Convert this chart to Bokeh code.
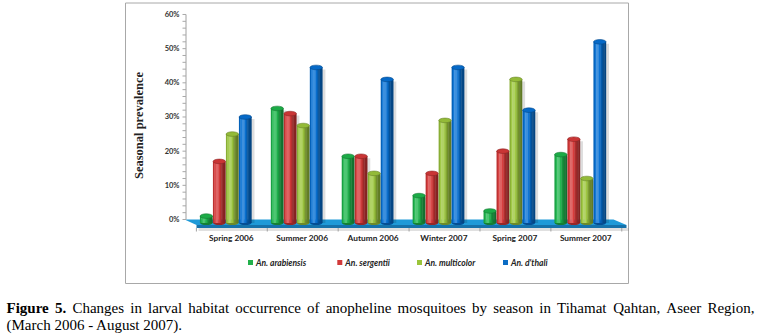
import math
from bokeh.plotting import figure
from bokeh.models import Range1d, ColumnDataSource
from bokeh.core.properties import value
from bokeh.embed import file_html
from bokeh.resources import INLINE

# ---------------- data ----------------
seasons = ["Spring 2006", "Summer 2006", "Autumn 2006", "Winter 2007", "Spring 2007", "Summer 2007"]
species = ["An. arabiensis", "An. sergentii", "An. multicolor", "An. d'thali"]
arabiensis = [1.0, 32.5, 18.5, 7.0, 2.5, 19.0]
sergentii = [17.0, 31.0, 18.5, 13.5, 20.0, 23.5]
multicolor = [25.0, 27.5, 13.5, 29.0, 41.0, 12.0]
dthali = [30.0, 44.5, 41.0, 44.5, 32.0, 52.0]
y_ticks = [0, 10, 20, 30, 40, 50, 60]
y_tick_labels = ["0%", "10%", "20%", "30%", "40%", "50%", "60%"]
y_title = "Seasonal prevalence"
caption_bold = ["Figure", "5."]
caption_line1 = "Changes in larval habitat occurrence of anopheline mosquitoes by season in Tihamat Qahtan, Aseer Region,"
caption_line2 = "(March 2006 - August 2007)."

series = [arabiensis, sergentii, multicolor, dthali]
base_rgb = [(30, 182, 76), (214, 56, 56), (156, 198, 60), (6, 112, 212)]
legend_hex = ["#22b04b", "#d23a3a", "#9bc43a", "#0b6cc4"]

# ---------------- pixel <-> data helpers (layout only) ----------------
X0, DX = 225.3, 70.9   # pixel of group 0 centre, pixels per category
Y0, DY = 219.0, 3.417  # pixel of 0 %, pixels per percent


def dx(px):
    return (px - X0) / DX


def dy(py):
    return (Y0 - py) / DY


W, H = 761, 336
p = figure(width=W, height=H, x_range=Range1d(dx(0), dx(W)), y_range=Range1d(dy(H), dy(0)),
           output_backend="svg", toolbar_location=None, min_border=0,
           x_axis_location=None, y_axis_location=None, outline_line_color=None,
           background_fill_color="white", border_fill_color="white")
p.grid.visible = False


def hexc(rgb):
    return "#%02x%02x%02x" % tuple(max(0, min(255, int(round(c)))) for c in rgb)


def shade(rgb, t):
    g = math.exp(-((t + 0.35) / 0.65) ** 2)
    f = 0.6 + 0.55 * g
    out = []
    for c in rgb:
        v = c * min(f, 1.0) + (255 - c) * max(f - 1.0, 0.0) * 1.6
        out.append(v)
    return hexc(out)


# ---------------- chart box ----------------
p.quad(left=dx(125), right=dx(628), top=dy(2.5), bottom=dy(283), fill_color="white",
       line_color="#a8a8a8", line_width=1)

# ---------------- floor ----------------
floor_top_x = [dx(184), dx(613), dx(626), dx(196)]
floor_top_y = [dy(219), dy(219), dy(224.5), dy(224.5)]
p.patch(floor_top_x, floor_top_y, fill_color="#1f9ad8", line_color=None)
p.patch([dx(196), dx(626), dx(626), dx(196)], [dy(224.5), dy(224.5), dy(227.5), dy(227.5)],
        fill_color="#1672aa", line_color=None)
p.patch([dx(198), dx(628), dx(628), dx(198)], [dy(227.5), dy(227.5), dy(230.5), dy(230.5)],
        fill_color="#000000", fill_alpha=0.12, line_color=None)

# ---------------- y axis ----------------
ax_x = dx(185.5)
p.segment(x0=[ax_x], y0=[0], x1=[ax_x], y1=[60], line_color="#a0a0a0", line_width=1)
minor = [v for v in range(0, 61, 2)]
p.segment(x0=[dx(182)] * len(minor), y0=minor, x1=[ax_x] * len(minor), y1=minor,
          line_color="#a8a8a8", line_width=1)
p.text(x=[dx(179)] * len(y_ticks), y=y_ticks, text=y_tick_labels,
       text_font=value("Lato"), text_font_style=value("bold"), text_font_size=value("7.5px"),
       text_align=value("right"), text_baseline=value("middle"), text_color="#333333")
p.text(x=[dx(138)], y=[dy(125)], text=[y_title], angle=math.pi / 2,
       text_font=value("Liberation Serif"), text_font_style=value("bold"),
       text_font_size=value("12.5px"), text_align=value("center"), text_baseline=value("middle"),
       text_color="#222222")

# category separator ticks on floor front edge
sep_x = [k - 0.5 + 0.085 for k in range(len(seasons) + 1)]
p.segment(x0=sep_x, y0=[dy(227.5)] * len(sep_x), x1=sep_x, y1=[dy(231)] * len(sep_x),
          line_color="#a0a0a0", line_width=1)

# ---------------- cylinders ----------------
offsets = [-19.5 / DX, -6.5 / DX, 6.5 / DX, 19.5 / DX]
bw = 12.4 / DX
bottom = dy(222.5)
N = 9
sh = dict(x=[], top=[])
st = dict(x=[], top=[], color=[])
caps = dict(x=[], y=[], color=[], line=[])
bots = dict(x=[], y=[], color=[])
for k, vals in enumerate(series):
    for i, v in enumerate(vals):
        cx = i + offsets[k]
        sh["x"].append(cx + 3.0 / DX)
        sh["top"].append(v - 0.6)
        bots["x"].append(cx)
        bots["y"].append(bottom)
        bots["color"].append(shade(base_rgb[k], 0.5))
        for j in range(N):
            t = -1 + (2 * j + 1) / N
            st["x"].append(cx + t * bw / 2)
            st["top"].append(v)
            st["color"].append(shade(base_rgb[k], t))
        caps["x"].append(cx)
        caps["y"].append(v)
        caps["color"].append(shade(base_rgb[k], -0.8))
        caps["line"].append(shade(base_rgb[k], 0.6))

p.vbar(x="x", top="top", bottom=bottom, width=bw, source=ColumnDataSource(sh),
       fill_color="#000000", fill_alpha=0.13, line_color=None)
p.ellipse(x="x", y="y", width=bw, height=4.0 / DY, source=ColumnDataSource(bots),
          fill_color="color", line_color=None)
p.vbar(x="x", top="top", bottom=bottom, width=bw / N * 1.25, source=ColumnDataSource(st),
       fill_color="color", line_color=None)
p.ellipse(x="x", y="y", width=bw, height=4.6 / DY, source=ColumnDataSource(caps),
          fill_color="color", line_color="line", line_width=0.6)

# ---------------- category labels ----------------
p.text(x=[i + 5.5 / DX for i in range(len(seasons))], y=[dy(237.5)] * len(seasons), text=seasons,
       text_font=value("Lato"), text_font_style=value("bold"), text_font_size=value("8.3px"),
       text_align=value("center"), text_baseline=value("middle"), text_color="#222222")

# ---------------- legend ----------------
leg_px = [250, 339.3, 419, 505]
p.scatter(x=[dx(v) for v in leg_px], y=[dy(262)] * 4, marker="square", size=5,
          fill_color=legend_hex, line_color=None)
p.text(x=[dx(v + 5.5) for v in leg_px], y=[dy(262)] * 4, text=species,
       text_font=value("Lato"), text_font_style=value("bold italic"), text_font_size=value("8.5px"),
       text_align=value("left"), text_baseline=value("middle"), text_color="#222222")

# ---------------- caption (justified line 1 using Times metrics) ----------------
TR = {' ': 250, 'a': 444, 'b': 500, 'c': 444, 'd': 500, 'e': 444, 'f': 333, 'g': 500, 'h': 500,
      'i': 278, 'j': 278, 'k': 500, 'l': 278, 'm': 778, 'n': 500, 'o': 500, 'p': 500, 'q': 500,
      'r': 333, 's': 389, 't': 278, 'u': 500, 'v': 500, 'w': 722, 'x': 500, 'y': 500, 'z': 444,
      'A': 722, 'C': 667, 'Q': 722, 'R': 667, 'T': 611, 'F': 556, 'M': 889, ',': 250, '.': 250,
      '-': 333, '(': 333, ')': 333}
TB = {'F': 611, 'i': 278, 'g': 500, 'u': 556, 'r': 444, 'e': 444, '.': 250}
for d in "0123456789":
    TR[d] = 500
    TB[d] = 500
FS = 15.0


def wlen(word, table):
    return sum(table.get(c, 500) for c in word) / 1000.0 * FS


words = caption_line1.split(" ")
all_w = [wlen(w, TB) for w in caption_bold] + [wlen(w, TR) for w in words]
left_px, right_px = 6.0, 754.0
gap = (right_px - left_px - sum(all_w)) / (len(all_w) - 1)
xs = []
cur = left_px
for wv in all_w:
    xs.append(cur)
    cur += wv + gap
nb = len(caption_bold)
p.text(x=[dx(v) for v in xs[:nb]], y=[dy(307)] * nb, text=caption_bold,
       text_font=value("Liberation Serif"), text_font_style=value("bold"), text_font_size=value("15px"),
       text_align=value("left"), text_baseline=value("alphabetic"), text_color="#000000")
p.text(x=[dx(v) for v in xs[nb:]], y=[dy(307)] * len(words), text=words,
       text_font=value("Liberation Serif"), text_font_size=value("15px"),
       text_align=value("left"), text_baseline=value("alphabetic"), text_color="#000000")
p.text(x=[dx(6)], y=[dy(324)], text=[caption_line2],
       text_font=value("Liberation Serif"), text_font_size=value("15px"),
       text_align=value("left"), text_baseline=value("alphabetic"), text_color="#000000")

open("out.html", "w").write(file_html(p, INLINE))
